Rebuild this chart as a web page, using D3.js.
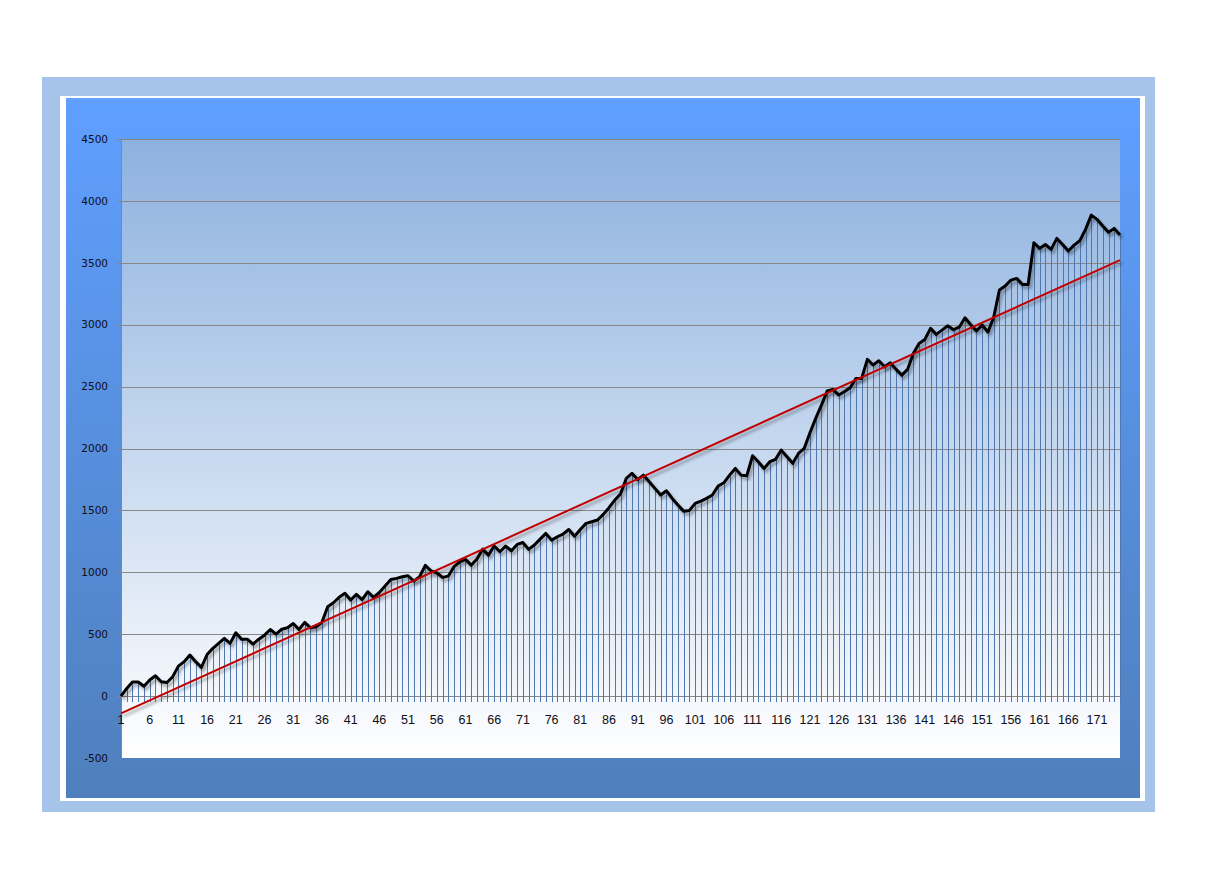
<!DOCTYPE html>
<html>
<head>
<meta charset="utf-8">
<script src="https://cdn.jsdelivr.net/npm/d3@7"></script>
<style>
  body { margin: 0; background: #fff; }
  svg { display: block; }
</style>
</head>
<body>
<div id="chart"></div>
<script>
// values, one per period 1..175
const values = [
  0, 62, 114, 114, 80, 130, 164, 116, 110, 156,
  242, 278, 332, 278, 232, 336, 386, 426, 466, 426,
  512, 460, 460, 420, 460, 492, 538, 500, 540, 552,
  586, 538, 596, 552, 560, 596, 722, 754, 798, 830,
  776, 822, 780, 843, 797, 837, 889, 942, 951, 964,
  972, 929, 964, 1056, 1012, 996, 959, 969, 1045, 1085,
  1104, 1058, 1107, 1187, 1139, 1212, 1166, 1212, 1174, 1225,
  1241, 1185, 1220, 1268, 1314, 1260, 1287, 1309, 1346, 1292,
  1346, 1395, 1408, 1422, 1468, 1522, 1583, 1632, 1758, 1799,
  1750, 1785, 1731, 1678, 1624, 1659, 1597, 1543, 1494, 1500,
  1556, 1575, 1597, 1624, 1696, 1723, 1785, 1839, 1785, 1780,
  1941, 1893, 1839, 1893, 1912, 1987, 1933, 1880, 1960, 2001,
  2127, 2243, 2351, 2464, 2478, 2432, 2459, 2490, 2566, 2566,
  2720, 2674, 2709, 2660, 2693, 2639, 2593, 2639, 2768, 2849,
  2881, 2970, 2922, 2956, 2991, 2960, 2980, 3056, 3000, 2950,
  2997, 2940, 3060, 3280, 3312, 3360, 3374, 3325, 3325, 3662,
  3616, 3648, 3608, 3697, 3648, 3595, 3643, 3678, 3770, 3885,
  3851, 3797, 3746, 3778, 3724
];
const categories = values.map((d, i) => i + 1);
const xTickLabels = categories.filter((d) => (d - 1) % 5 === 0);
const yTicks = [-500, 0, 500, 1000, 1500, 2000, 2500, 3000, 3500, 4000, 4500];
// linear trend, value at first and last period
const trendEnds = [-140, 3522];

class TrendChart {
  constructor(config) {
    this.config = {
      parentElement: config.parentElement,
      width: 1218,
      height: 888,
      plot: { left: 121, top: 139, right: 1120, bottom: 758 },
    };
    this.data = categories.map((c, i) => ({ cat: c, v: values[i] }));
    this.initVis();
  }

  initVis() {
    const vis = this;
    vis.svg = d3
      .select(vis.config.parentElement)
      .append("svg")
      .attr("width", vis.config.width)
      .attr("height", vis.config.height);

    vis.createScales();
    vis.drawBackground();
    vis.drawGrid();
    vis.drawDropLines();
    vis.drawAxes();
    vis.drawSeries();
  }

  createScales() {
    const vis = this;
    const p = vis.config.plot;
    vis.xScale = d3.scalePoint().domain(categories).range([p.left, p.right]);
    vis.yScale = d3.scaleLinear().domain([-500, 4500]).range([p.bottom, p.top]);
  }

  drawBackground() {
    const vis = this;
    const p = vis.config.plot;
    const defs = vis.svg.append("defs");

    const chartGrad = defs.append("linearGradient")
      .attr("id", "chartGrad").attr("x1", 0).attr("y1", 0).attr("x2", 0).attr("y2", 1);
    chartGrad.append("stop").attr("offset", "0%").attr("stop-color", "#5f9fff");
    chartGrad.append("stop").attr("offset", "100%").attr("stop-color", "#4f7fbc");

    const plotGrad = defs.append("linearGradient")
      .attr("id", "plotGrad").attr("x1", 0).attr("y1", 0).attr("x2", 0).attr("y2", 1);
    plotGrad.append("stop").attr("offset", "0%").attr("stop-color", "#8db1df");
    plotGrad.append("stop").attr("offset", "100%").attr("stop-color", "#ffffff");

    const shadow = defs.append("filter").attr("id", "shadow")
      .attr("x", "-5%").attr("y", "-5%").attr("width", "110%").attr("height", "110%");
    shadow.append("feDropShadow")
      .attr("dx", 2).attr("dy", 3).attr("stdDeviation", 1.5)
      .attr("flood-color", "#000").attr("flood-opacity", 0.35);

    vis.svg.append("rect")
      .attr("x", 42).attr("y", 77).attr("width", 1113).attr("height", 735)
      .attr("fill", "#a6c4ea");
    vis.svg.append("rect")
      .attr("x", 60).attr("y", 96).attr("width", 1085).attr("height", 705)
      .attr("fill", "#ffffff");
    vis.svg.append("rect")
      .attr("x", 66).attr("y", 98).attr("width", 1074).attr("height", 700)
      .attr("fill", "url(#chartGrad)");
    vis.svg.append("rect")
      .attr("x", p.left).attr("y", p.top)
      .attr("width", p.right - p.left).attr("height", p.bottom - p.top)
      .attr("fill", "url(#plotGrad)");
  }

  drawGrid() {
    const vis = this;
    const p = vis.config.plot;
    vis.svg.append("g")
      .selectAll("line")
      .data(yTicks.filter((d) => d > -500))
      .join("line")
      .attr("x1", p.left - 4)
      .attr("x2", p.right)
      .attr("y1", (d) => Math.round(vis.yScale(d)) + 0.5)
      .attr("y2", (d) => Math.round(vis.yScale(d)) + 0.5)
      .attr("stroke", "#878787")
      .attr("stroke-width", 1);
  }

  drawDropLines() {
    const vis = this;
    vis.svg.append("g")
      .selectAll("line")
      .data(vis.data)
      .join("line")
      .attr("x1", (d) => Math.round(vis.xScale(d.cat)) + 0.5)
      .attr("x2", (d) => Math.round(vis.xScale(d.cat)) + 0.5)
      .attr("y1", (d) => vis.yScale(d.v))
      .attr("y2", vis.yScale(0) + 6)
      .attr("stroke", "#4f78b0")
      .attr("stroke-width", 1);
  }

  drawAxes() {
    const vis = this;
    const p = vis.config.plot;

    // value axis line
    vis.svg.append("line")
      .attr("x1", p.left + 0.5).attr("x2", p.left + 0.5)
      .attr("y1", p.top).attr("y2", p.bottom)
      .attr("stroke", "#878787");

    vis.svg.append("g")
      .selectAll("text")
      .data(yTicks)
      .join("text")
      .attr("x", 108)
      .attr("y", (d) => vis.yScale(d))
      .attr("dy", "0.36em")
      .attr("text-anchor", "end")
      .attr("font-family", "DejaVu Sans, Verdana, sans-serif")
      .attr("font-size", 10.5)
      .attr("fill", "#0d0d1a")
      .text((d) => d);

    // category labels
    vis.svg.append("g")
      .selectAll("text")
      .data(xTickLabels)
      .join("text")
      .attr("x", (d) => vis.xScale(d))
      .attr("y", vis.yScale(0) + 28)
      .attr("text-anchor", "middle")
      .attr("font-family", "Liberation Sans, Arial, sans-serif")
      .attr("font-size", 12.5)
      .attr("fill", "#0d0d1a")
      .text((d) => d);
  }

  drawSeries() {
    const vis = this;
    const line = d3.line()
      .x((d) => vis.xScale(d.cat))
      .y((d) => vis.yScale(d.v));

    vis.svg.append("path")
      .datum(vis.data)
      .attr("d", line)
      .attr("fill", "none")
      .attr("stroke", "#000")
      .attr("stroke-width", 3)
      .attr("stroke-linejoin", "round")
      .attr("filter", "url(#shadow)");

    const trend = [
      { cat: categories[0], v: trendEnds[0] },
      { cat: categories[categories.length - 1], v: trendEnds[1] },
    ];
    vis.svg.append("path")
      .datum(trend)
      .attr("d", line)
      .attr("fill", "none")
      .attr("stroke", "#c00000")
      .attr("stroke-width", 2)
      .attr("filter", "url(#shadow)");
  }
}

new TrendChart({ parentElement: "#chart" });
</script>
</body>
</html>
